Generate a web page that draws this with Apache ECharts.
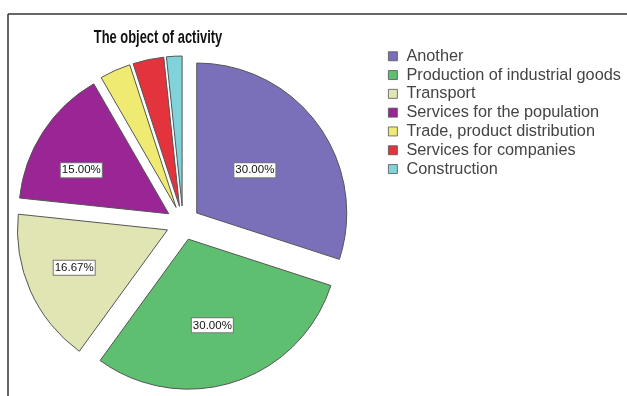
<!DOCTYPE html>
<html>
<head>
<meta charset="utf-8">
<script src="https://cdn.jsdelivr.net/npm/echarts@6/dist/echarts.min.js"></script>
<style>html,body{margin:0;padding:0;background:#fff}#c{width:627px;height:396px}</style>
</head>
<body>
<div id="c"></div>
<script>
const titleText = 'The object of activity';
const categories = ['Another', 'Production of industrial goods', 'Transport', 'Services for the population', 'Trade, product distribution', 'Services for companies', 'Construction'];
const values = [30, 30, 16.67, 15, 3.33, 3.33, 1.67];
const colors = ['#7a6fb9', '#5fbf70', '#e1e4b3', '#9a2594', '#efeb72', '#e3333c', '#7fd3d9'];
const labelShifts = [[-5, 3], [0, 12], [-22, 6], [-22, -1], [0, 0], [0, 0], [0, 0]];

const chart = echarts.init(document.getElementById('c'));
const data = categories.map((name, i) => ({
  name: name,
  value: values[i],
  selected: true,
  itemStyle: { color: colors[i] },
  label: { show: values[i] >= 10 }
}));

chart.setOption({
  animation: false,
  legend: {
    orient: 'vertical',
    left: 388, top: 48, padding: 0,
    itemWidth: 9, itemHeight: 9, itemGap: 2.3,
    icon: 'rect',
    selectedMode: false,
    itemStyle: { borderColor: '#555', borderWidth: 0.8 },
    textStyle: { fontFamily: 'Liberation Sans, Arial', fontSize: 16.3, color: '#444', lineHeight: 16.5, padding: [0, 0, 0, 4] },
    data: categories
  },
  graphic: [
    { type: 'line', shape: { x1: 8, y1: 14, x2: 627, y2: 14 }, style: { stroke: '#333', lineWidth: 1.5 } },
    { type: 'line', shape: { x1: 8, y1: 14, x2: 8, y2: 396 }, style: { stroke: '#333', lineWidth: 1.5 } },
    { type: 'text', x: 158, y: 38, scaleX: 0.68,
      style: { text: titleText, font: 'bold 19px "Liberation Sans", Arial', textAlign: 'center', textVerticalAlign: 'middle', fill: '#111' } }
  ],
  series: [{
    type: 'pie',
    center: [183, 223],
    radius: 150,
    startAngle: 90,
    clockwise: true,
    selectedMode: 'multiple',
    selectedOffset: 17,
    avoidLabelOverlap: false,
    itemStyle: { borderColor: '#555', borderWidth: 1 },
    label: {
      position: 'inside',
      formatter: p => p.value.toFixed(2) + '%',
      fontFamily: 'Liberation Sans, Arial',
      fontSize: 11.5,
      color: '#111',
      backgroundColor: '#fff',
      borderColor: '#777',
      borderWidth: 1,
      padding: [1, 1]
    },
    labelLayout: p => ({ dx: labelShifts[p.dataIndex][0], dy: labelShifts[p.dataIndex][1] }),
    labelLine: { show: false },
    emphasis: { disabled: true },
    data: data
  }]
});
</script>
</body>
</html>
